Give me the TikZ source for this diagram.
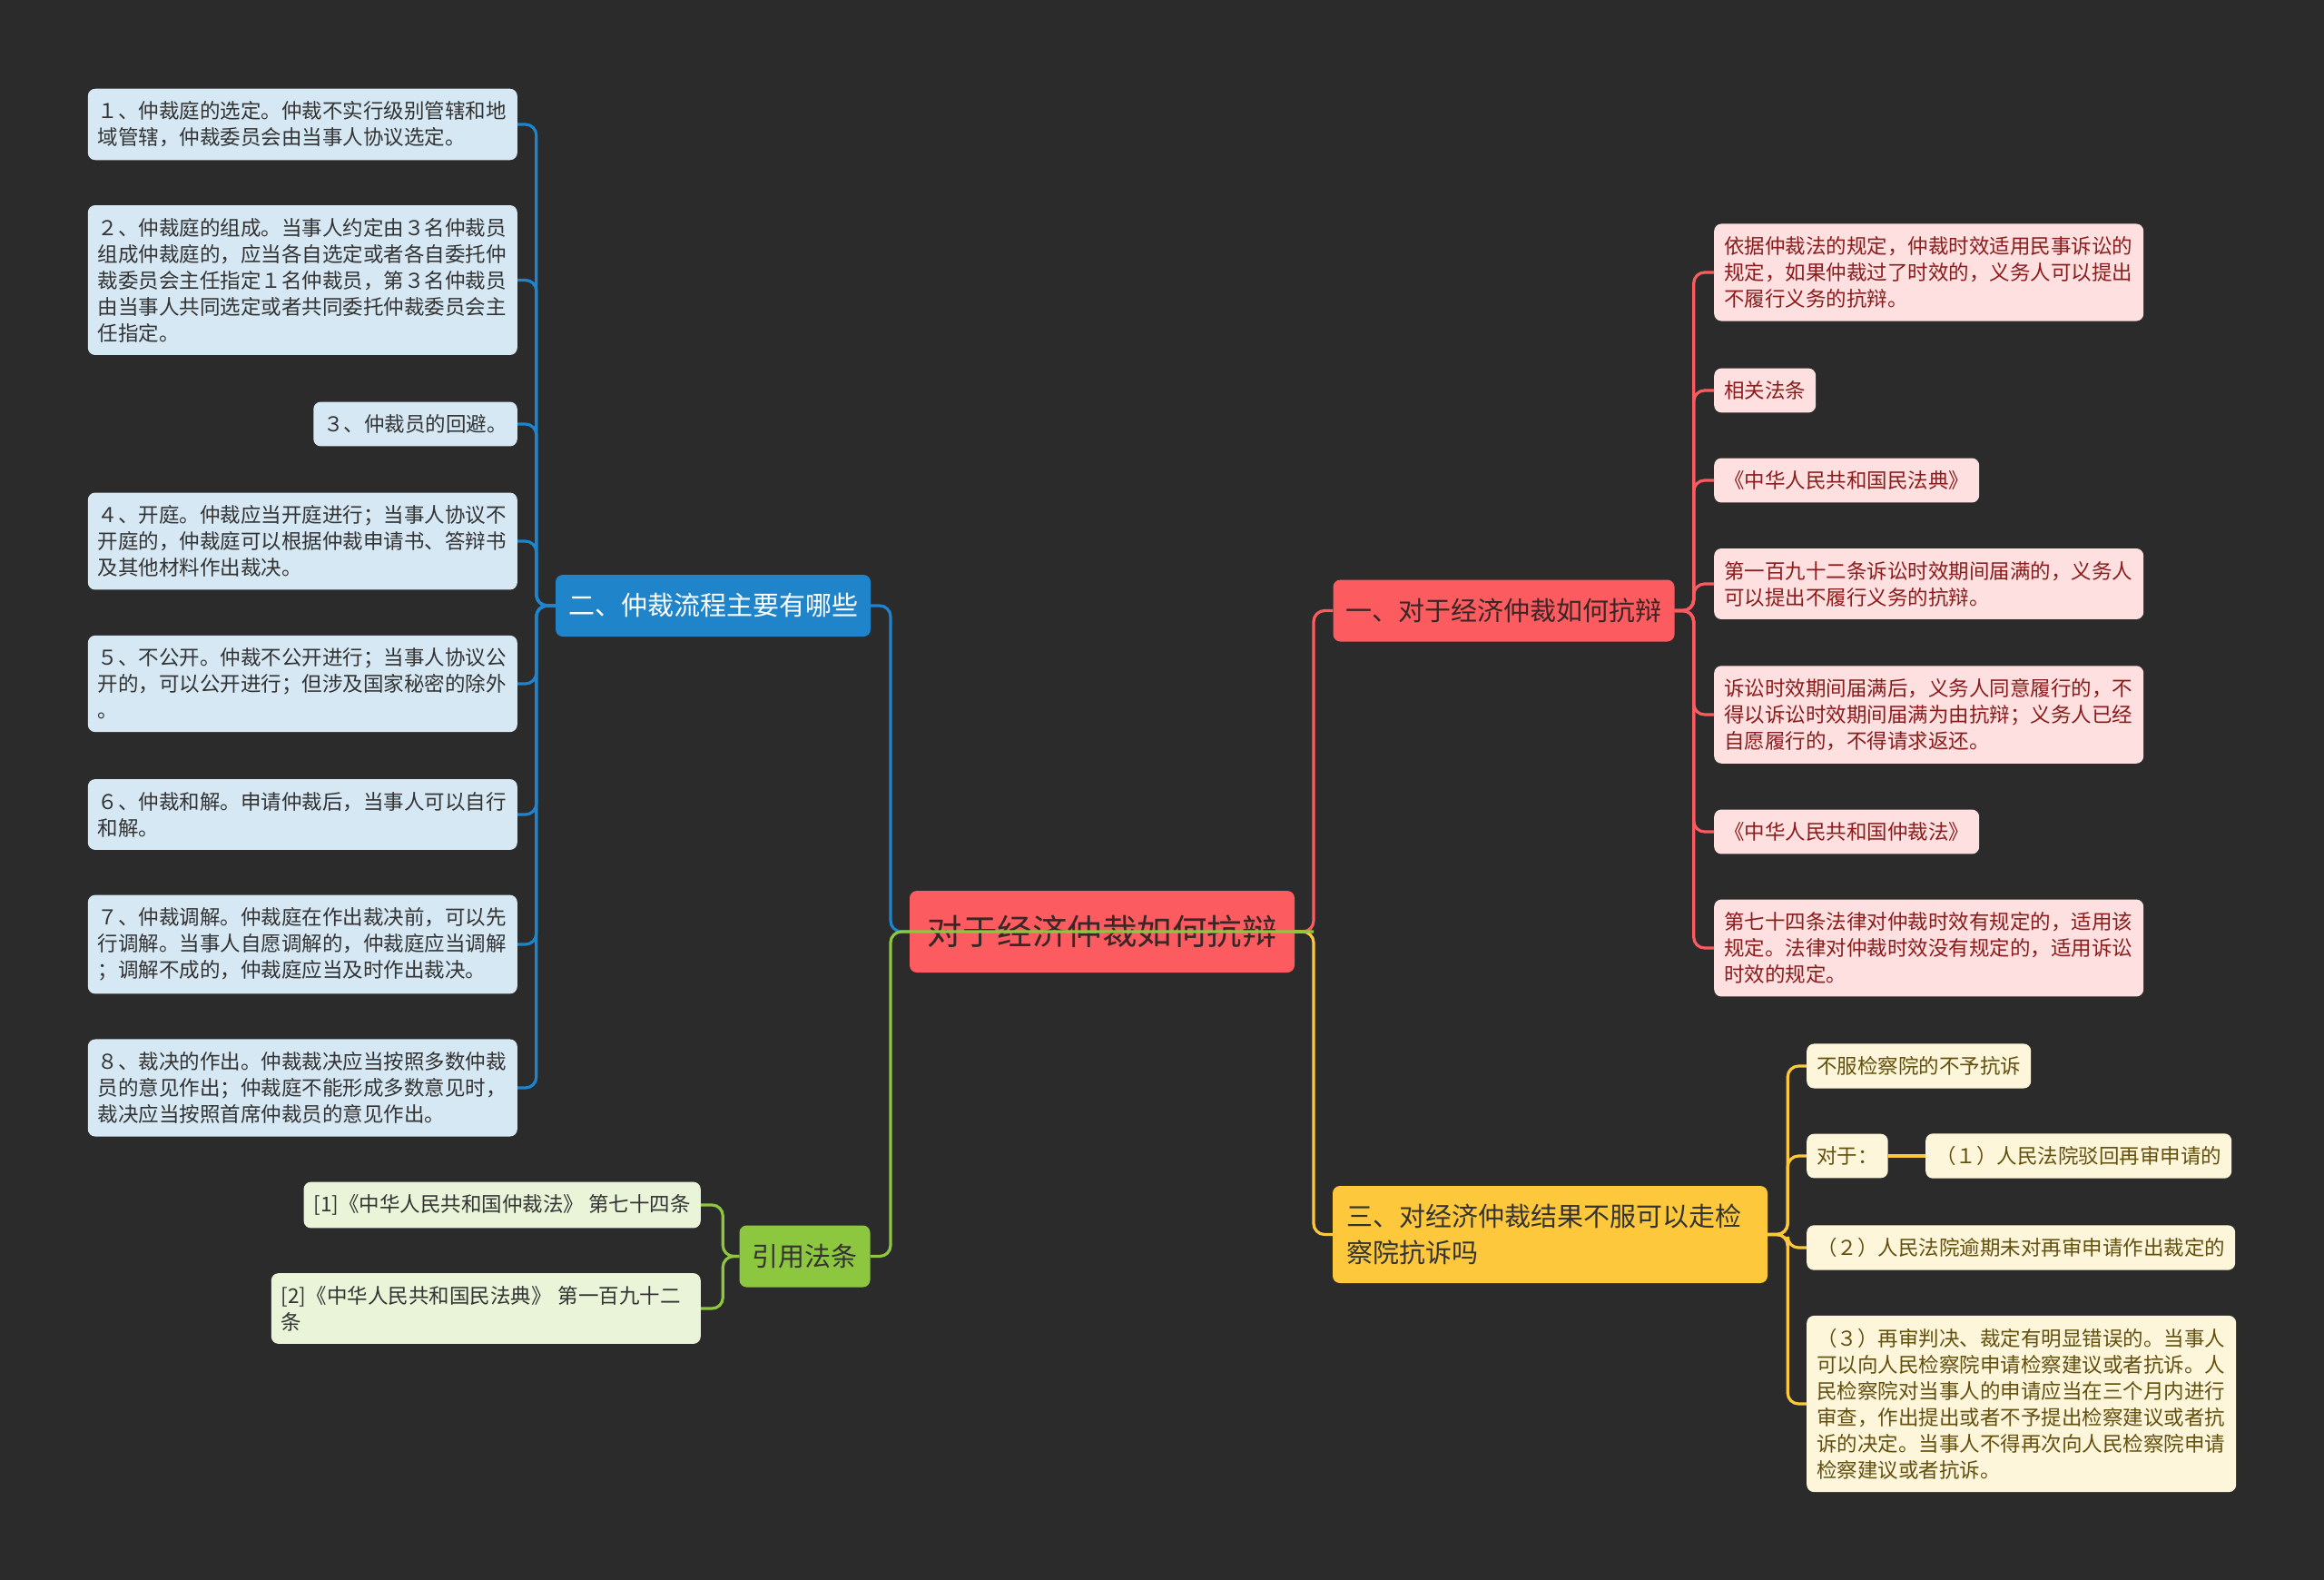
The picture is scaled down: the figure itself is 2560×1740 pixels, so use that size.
\documentclass[tikz,border=0pt]{standalone}
\usepackage{fontspec}
\setmainfont{Noto Sans CJK SC}
\usepackage{tikz}
\usetikzlibrary{positioning,calc}

\definecolor{bgdark}{HTML}{2B2B2B}
\definecolor{rootred}{HTML}{FC5B5F}
\definecolor{darktxt}{HTML}{333333}
\definecolor{redtxt}{HTML}{8A1C1C}
\definecolor{topictxt}{HTML}{3A2626}
\definecolor{blueA}{HTML}{1F84CA}
\definecolor{blueL}{HTML}{D5E8F4}
\definecolor{redL}{HTML}{FFE0E0}
\definecolor{greenA}{HTML}{8DC63F}
\definecolor{greenL}{HTML}{E9F4D8}
\definecolor{yellowA}{HTML}{FDC83C}
\definecolor{yellowL}{HTML}{FEF6DA}
\definecolor{yellowtxt}{HTML}{63500F}

\begin{document}
\begin{tikzpicture}[
        x=1pt, y=-1pt,
        leaf/.style={rectangle, rounded corners=8pt, inner xsep=11pt, inner ysep=14pt, align=left, font=\fontsize{22.5}{29}\selectfont},
        wide/.style={text width=451pt},
        bleaf/.style={leaf, fill=blueL, text=darktxt},
        rleaf/.style={leaf, fill=redL, text=redtxt},
        gleaf/.style={leaf, fill=greenL, text=darktxt},
        yleaf/.style={leaf, fill=yellowL, text=yellowtxt},
        topic/.style={rectangle, rounded corners=8pt, inner xsep=14pt, minimum height=68pt, font=\fontsize{29}{40}\selectfont},
        link/.style={line width=3.2pt, rounded corners=12pt},
        bline/.style={link, draw=blueA},
        rline/.style={link, draw=rootred},
        gline/.style={link, draw=greenA},
        yline/.style={link, draw=yellowA}
        ]

        % background and page size
        \fill[bgdark] (0,0) rectangle (2560,1740);
        \useasboundingbox (0,0) rectangle (2560,1740);

        % root and main topics
        \node[rectangle, rounded corners=8pt, fill=rootred, text=topictxt, minimum width=424pt, minimum height=90pt, font=\fontsize{38.5}{46}\selectfont] (root) at (1214,1026) {对于经济仲裁如何抗辩};
        \coordinate (lj) at (981,1026);
        \coordinate (rj) at (1447,1026);

        \node[topic, fill=blueA, text=white] (n2) at (785.5,667) {二、仲裁流程主要有哪些};
        \node[topic, fill=rootred, text=topictxt] (n1) at (1656.5,672.5) {一、对于经济仲裁如何抗辩};
        \node[topic, fill=greenA, text=darktxt] (law) at (886.5,1383.5) {引用法条};
        \node[topic, fill=yellowA, text=darktxt, text width=449pt, inner xsep=15pt, minimum height=107pt, align=left] (n3) at (1707.5,1359.5) {三、对经济仲裁结果不服可以走检\\察院抗诉吗};

        % blue branch
        \node[bleaf, wide, anchor=east] (b1) at (570,137) {１、仲裁庭的选定。仲裁不实行级别管辖和地\\域管辖，仲裁委员会由当事人协议选定。};
        \node[bleaf, wide, anchor=east] (b2) at (570,308.5) {２、仲裁庭的组成。当事人约定由３名仲裁员\\组成仲裁庭的，应当各自选定或者各自委托仲\\裁委员会主任指定１名仲裁员，第３名仲裁员\\由当事人共同选定或者共同委托仲裁委员会主\\任指定。};
        \node[bleaf, anchor=east] (b3) at (570,467) {３、仲裁员的回避。};
        \node[bleaf, wide, anchor=east] (b4) at (570,596) {４、开庭。仲裁应当开庭进行；当事人协议不\\开庭的，仲裁庭可以根据仲裁申请书、答辩书\\及其他材料作出裁决。};
        \node[bleaf, wide, anchor=east] (b5) at (570,753) {５、不公开。仲裁不公开进行；当事人协议公\\开的，可以公开进行；但涉及国家秘密的除外\\。};
        \node[bleaf, wide, anchor=east] (b6) at (570,897) {６、仲裁和解。申请仲裁后，当事人可以自行\\和解。};
        \node[bleaf, wide, anchor=east] (b7) at (570,1040) {７、仲裁调解。仲裁庭在作出裁决前，可以先\\行调解。当事人自愿调解的，仲裁庭应当调解\\；调解不成的，仲裁庭应当及时作出裁决。};
        \node[bleaf, wide, anchor=east] (b8) at (570,1198) {８、裁决的作出。仲裁裁决应当按照多数仲裁\\员的意见作出；仲裁庭不能形成多数意见时，\\裁决应当按照首席仲裁员的意见作出。};

        % red branch
        \node[rleaf, wide, anchor=west] (r1) at (1888,300) {依据仲裁法的规定，仲裁时效适用民事诉讼的\\规定，如果仲裁过了时效的，义务人可以提出\\不履行义务的抗辩。};
        \node[rleaf, anchor=west] (r2) at (1888,430) {相关法条};
        \node[rleaf, anchor=west] (r3) at (1888,529) {《中华人民共和国民法典》};
        \node[rleaf, wide, anchor=west] (r4) at (1888,643) {第一百九十二条诉讼时效期间届满的，义务人\\可以提出不履行义务的抗辩。};
        \node[rleaf, wide, anchor=west] (r5) at (1888,787) {诉讼时效期间届满后，义务人同意履行的，不\\得以诉讼时效期间届满为由抗辩；义务人已经\\自愿履行的，不得请求返还。};
        \node[rleaf, anchor=west] (r6) at (1888,916) {《中华人民共和国仲裁法》};
        \node[rleaf, wide, anchor=west] (r7) at (1888,1044) {第七十四条法律对仲裁时效有规定的，适用该\\规定。法律对仲裁时效没有规定的，适用诉讼\\时效的规定。};

        % yellow branch
        \node[yleaf, anchor=west] (y1) at (1990,1174) {不服检察院的不予抗诉};
        \node[yleaf, anchor=west] (y2) at (1990,1273) {对于：};
        \node[yleaf, anchor=west] (y3) at (2121,1273) {（１）人民法院驳回再审申请的};
        \node[yleaf, anchor=west] (y4) at (1990,1374) {（２）人民法院逾期未对再审申请作出裁定的};
        \node[yleaf, wide, anchor=west] (y5) at (1990,1546) {（３）再审判决、裁定有明显错误的。当事人\\可以向人民检察院申请检察建议或者抗诉。人\\民检察院对当事人的申请应当在三个月内进行\\审查，作出提出或者不予提出检察建议或者抗\\诉的决定。当事人不得再次向人民检察院申请\\检察建议或者抗诉。};

        % green branch
        \node[gleaf, anchor=east] (g1) at (772,1327) {[1]《中华人民共和国仲裁法》 第七十四条};
        \node[gleaf, wide, anchor=east] (g2) at (772,1441) {[2]《中华人民共和国民法典》 第一百九十二\\条};

        % connectors from the root
        \draw[bline] (root.west) -- (lj) |- (n2.east);
        \draw[rline] (root.east) -- (rj) |- (n1.west);
        \draw[yline] (root.east) -- (rj) |- (n3.west);
        \draw[gline] (rj) -- (lj) |- (law.east);

        % connectors to the leaves
        \foreach \i in {1,...,8}
            \draw[bline] (n2.west) -- ++(-21,0) |- (b\i.east);
        \foreach \i in {1,...,7}
            \draw[rline] (n1.east) -- ++(21,0) |- (r\i.west);
        \foreach \i in {1,2,4,5}
            \draw[yline] (n3.east) -- ++(22,0) |- (y\i.west);
        \draw[yline] (y2.east) -- (y3.west);
        \foreach \i in {1,2}
            \draw[gline] (law.west) -- ++(-18,0) |- (g\i.east);

    \end{tikzpicture}
\end{document}
